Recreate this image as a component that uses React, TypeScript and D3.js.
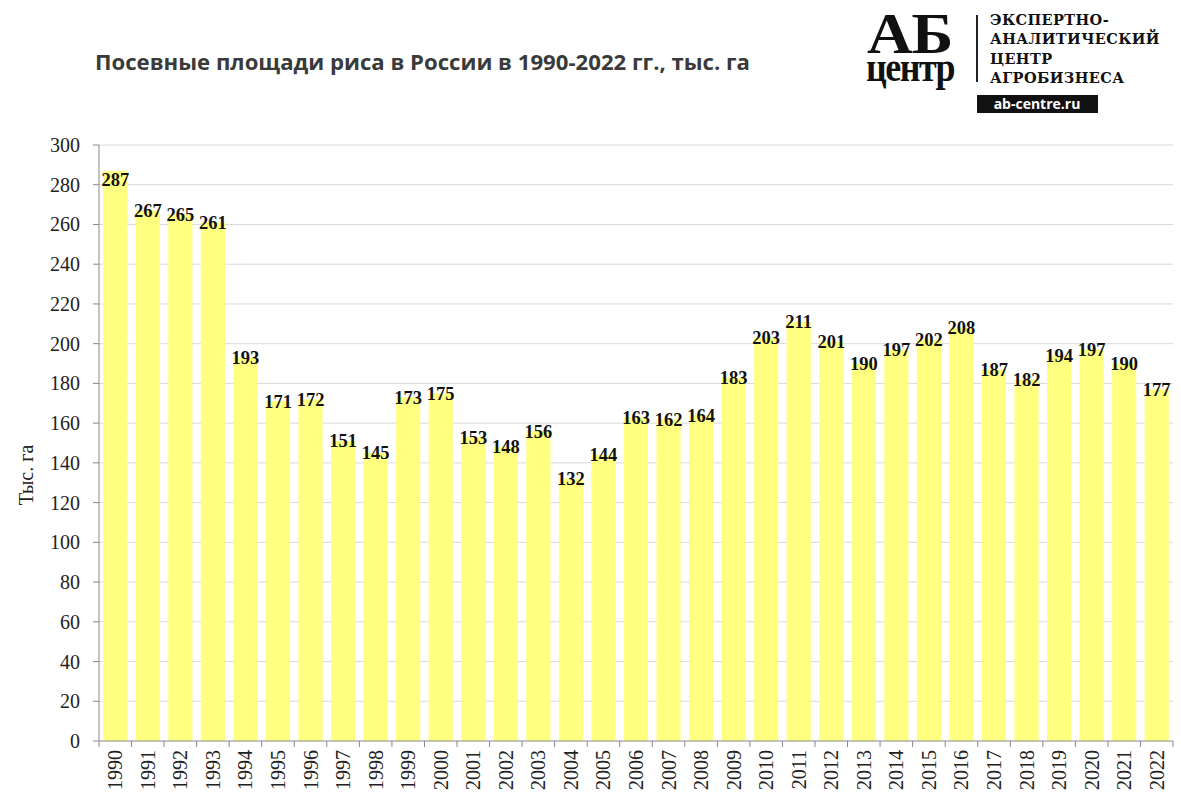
import React from 'react';
import * as d3 from 'd3';

const years = ['1990', '1991', '1992', '1993', '1994', '1995', '1996', '1997', '1998', '1999', '2000', '2001', '2002', '2003', '2004', '2005', '2006', '2007', '2008', '2009', '2010', '2011', '2012', '2013', '2014', '2015', '2016', '2017', '2018', '2019', '2020', '2021', '2022'];
const areas = [287, 267, 265, 261, 193, 171, 172, 151, 145, 173, 175, 153, 148, 156, 132, 144, 163, 162, 164, 183, 203, 211, 201, 190, 197, 202, 208, 187, 182, 194, 197, 190, 177];
const yTicks = [0, 20, 40, 60, 80, 100, 120, 140, 160, 180, 200, 220, 240, 260, 280, 300];

const title = 'Посевные площади риса в России в 1990-2022 гг., тыс. га';
const yTitle = 'Тыс. га';
const logoLines = ['ЭКСПЕРТНО-', 'АНАЛИТИЧЕСКИЙ', 'ЦЕНТР', 'АГРОБИЗНЕСА'];

const width = 1181;
const height = 798;
const left = 99;
const right = 1173;
const top = 145;
const bottom = 741;

const serif = '"Liberation Serif", "DejaVu Serif", serif';

const App = () => {
  const x = d3.scaleBand().domain(years).range([left, right]).paddingInner(0.26).paddingOuter(0.13);
  const y = d3.scaleLinear().domain([0, 300]).range([bottom, top]);
  const step = x.step();

  return (
    <svg width={width} height={height} style={{ position: 'absolute', left: 0, top: 0, background: '#fff' }}>
      <text x={95} y={70} fontFamily='"Open Sans", "Noto Sans", sans-serif' fontWeight="bold" fontSize={21} textLength={655} lengthAdjust="spacingAndGlyphs" fill="#3a3a3a">
        {title}
      </text>

      {/* logo */}
      <g>
        <text transform="translate(867,53) scale(1.15,1.05)" fontFamily={serif} fontWeight="bold" fontSize={55} fill="#111" letterSpacing={-1}>АБ</text>
        <text transform="translate(866,81) scale(1,1.2)" fontFamily={serif} fontWeight="bold" fontSize={36} fill="#111" letterSpacing={-1.5}>центр</text>
        <line x1={977} x2={977} y1={15} y2={82} stroke="#222" strokeWidth={2} />
        {logoLines.map((t, i) => (
          <text key={t} x={990} y={25 + i * 19.3} fontFamily='"DejaVu Serif", serif' fontWeight="bold" fontSize={14.5} fill="#111" letterSpacing={0.4}>{t}</text>
        ))}
        <rect x={977} y={95} width={121} height={18} fill="#111" />
        <text x={1037} y={109} textAnchor="middle" fontFamily='"Open Sans", sans-serif' fontWeight="bold" fontSize={14} fill="#fff">ab-centre.ru</text>
      </g>

      {/* grid */}
      {yTicks.filter(t => t > 0).map(t => (
        <line key={t} x1={left} x2={right} y1={y(t)} y2={y(t)} stroke="#d9d9d9" strokeWidth={1} />
      ))}

      {/* bars */}
      {years.map((yr, i) => (
        <rect key={yr} x={x(yr)} y={y(areas[i])} width={x.bandwidth()} height={bottom - y(areas[i])} fill="#ffff80" />
      ))}

      {/* axes */}
      <line x1={left} x2={left} y1={top} y2={bottom} stroke="#888" />
      <line x1={left} x2={right} y1={bottom} y2={bottom} stroke="#888" />
      {yTicks.map(t => (
        <g key={t}>
          <line x1={left - 6} x2={left} y1={y(t)} y2={y(t)} stroke="#888" />
          <text x={left - 19} y={y(t)} dy="0.35em" textAnchor="end" fontFamily={serif} fontSize={20} fill="#222">{t}</text>
        </g>
      ))}
      {years.map((yr, i) => (
        <g key={yr}>
          <line x1={left + i * step} x2={left + i * step} y1={bottom} y2={bottom + 6} stroke="#888" />
          <text transform={`translate(${x(yr)! + x.bandwidth() / 2},${bottom + 9}) rotate(-90)`} dy="0.35em" textAnchor="end" fontFamily={serif} fontSize={20} fill="#222">{yr}</text>
        </g>
      ))}
      <line x1={right} x2={right} y1={bottom} y2={bottom + 6} stroke="#888" />

      <text transform={`translate(33,475) rotate(-90)`} textAnchor="middle" fontFamily={serif} fontSize={20} fill="#222">{yTitle}</text>

      {/* value labels */}
      {years.map((yr, i) => (
        <text key={yr} x={x(yr)! + x.bandwidth() / 2} y={Math.max(y(areas[i]), top + 35)} dy="0.35em" textAnchor="middle" fontFamily={serif} fontWeight="bold" fontSize={18.5} fill="#111">
          {areas[i]}
        </text>
      ))}
    </svg>
  );
};

export default App;
